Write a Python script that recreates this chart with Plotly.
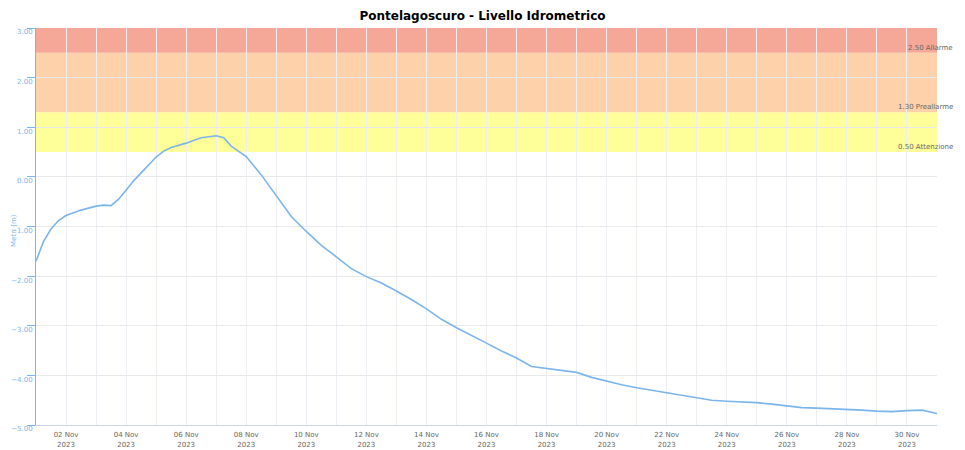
from datetime import datetime, timedelta
import plotly.graph_objects as go

# days since 01 Nov 2023 00:00 and water level (m)
day_offsets = [0.0, 0.25, 0.5, 0.75, 1.0, 1.5, 2.0, 2.25, 2.5, 2.75,
               3.0, 3.25, 3.5, 3.75, 4.0, 4.25, 4.5, 5.0, 5.5, 6.0,
               6.25, 6.5, 6.75, 7.0, 7.5, 8.0, 8.5, 9.0, 9.5, 10.0,
               10.5, 11.0, 11.5, 12.0, 12.5, 13.0, 13.5, 14.0, 14.5, 15.0,
               15.5, 16.0, 16.5, 17.0, 17.5, 18.0, 18.5, 19.0, 19.5, 20.0,
               20.5, 21.0, 21.5, 22.0, 22.5, 23.0, 23.5, 24.0, 24.5, 25.0,
               25.5, 26.0, 26.5, 27.0, 27.5, 28.0, 28.5, 29.0, 29.5, 30.0]
level_m = [-1.70, -1.30, -1.05, -0.88, -0.78, -0.67, -0.59, -0.57, -0.58, -0.45,
           -0.27, -0.08, 0.08, 0.24, 0.40, 0.52, 0.59, 0.68, 0.79, 0.83,
           0.79, 0.62, 0.52, 0.41, 0.04, -0.38, -0.80, -1.10, -1.38, -1.61,
           -1.85, -2.01, -2.14, -2.30, -2.47, -2.66, -2.87, -3.04, -3.19, -3.35,
           -3.51, -3.65, -3.82, -3.86, -3.89, -3.94, -4.04, -4.12, -4.19, -4.25,
           -4.30, -4.36, -4.41, -4.46, -4.50, -4.52, -4.53, -4.55, -4.58, -4.62,
           -4.65, -4.66, -4.67, -4.68, -4.70, -4.72, -4.73, -4.71, -4.70, -4.77]

# alert thresholds
band_low = [0.5, 1.3, 2.5]
band_high = [1.3, 2.5, 3.0]
band_names = ['0.50 Attenzione', '1.30 Preallarme', '2.50 Allarme']
band_colors = ['#FFFF99', '#FDD2AA', '#F6A898']

start = datetime(2023, 11, 1)
times = [start + timedelta(days=d) for d in day_offsets]

fig = go.Figure()
fig.add_trace(go.Scatter(x=times, y=level_m, mode='lines',
                         line=dict(color='#7cb5ec', width=1.6),
                         showlegend=False))

for lo, hi, name, col in zip(band_low, band_high, band_names, band_colors):
    fig.add_hrect(y0=lo, y1=hi, fillcolor=col, line_width=0, layer='below')
    fig.add_annotation(text=name, xref='paper', x=1, xanchor='right', xshift=18,
                       y=lo, yref='y', yanchor='middle', yshift=5, showarrow=False,
                       font=dict(size=7, color='#666666'))

fig.add_annotation(text='Metri (m)', xref='paper', yref='paper', x=-0.0239, y=0.49,
                   xanchor='center', yanchor='middle', textangle=-90, showarrow=False,
                   font=dict(size=7, color='#7cb5ec'))

fig.update_layout(
    title=dict(text='<b>Pontelagoscuro - Livello Idrometrico</b>', x=0.5, y=0.975,
               yanchor='top', font=dict(size=12, color='#000000', family='DejaVu Sans')),
    width=965, height=450,
    margin=dict(l=36, r=28, t=28, b=25),
    plot_bgcolor='white', paper_bgcolor='white',
    font=dict(family='DejaVu Sans', size=7, color='#666666'),
)
fig.update_xaxes(range=[start, start + timedelta(days=30)],
                 tick0='2023-11-02', dtick=2 * 86400000,
                 tickformat='%d %b<br>%Y', showgrid=True, gridcolor='#eceef3',
                 minor=dict(dtick=86400000, showgrid=True, gridcolor='#eceef3'),
                 showline=True, linecolor='#ccd6eb', ticks='', ticklabelstandoff=3,
                 tickfont=dict(size=7, color='#666666'), automargin=False)
fig.update_yaxes(range=[-5, 3], dtick=1, tickformat='.2f', showgrid=True,
                 gridcolor='#e9e9e9', zeroline=False, showline=True,
                 linecolor='#7cb5ec', ticks='outside', ticklen=8, tickcolor='#7cb5ec',
                 ticklabelstandoff=-7, ticklabelshift=4,
                 tickfont=dict(size=7, color='#7cb5ec'), automargin=False)

fig.write_html('out.html', config={'displayModeBar': False},
               post_script="document.body.style.margin='0px';")
